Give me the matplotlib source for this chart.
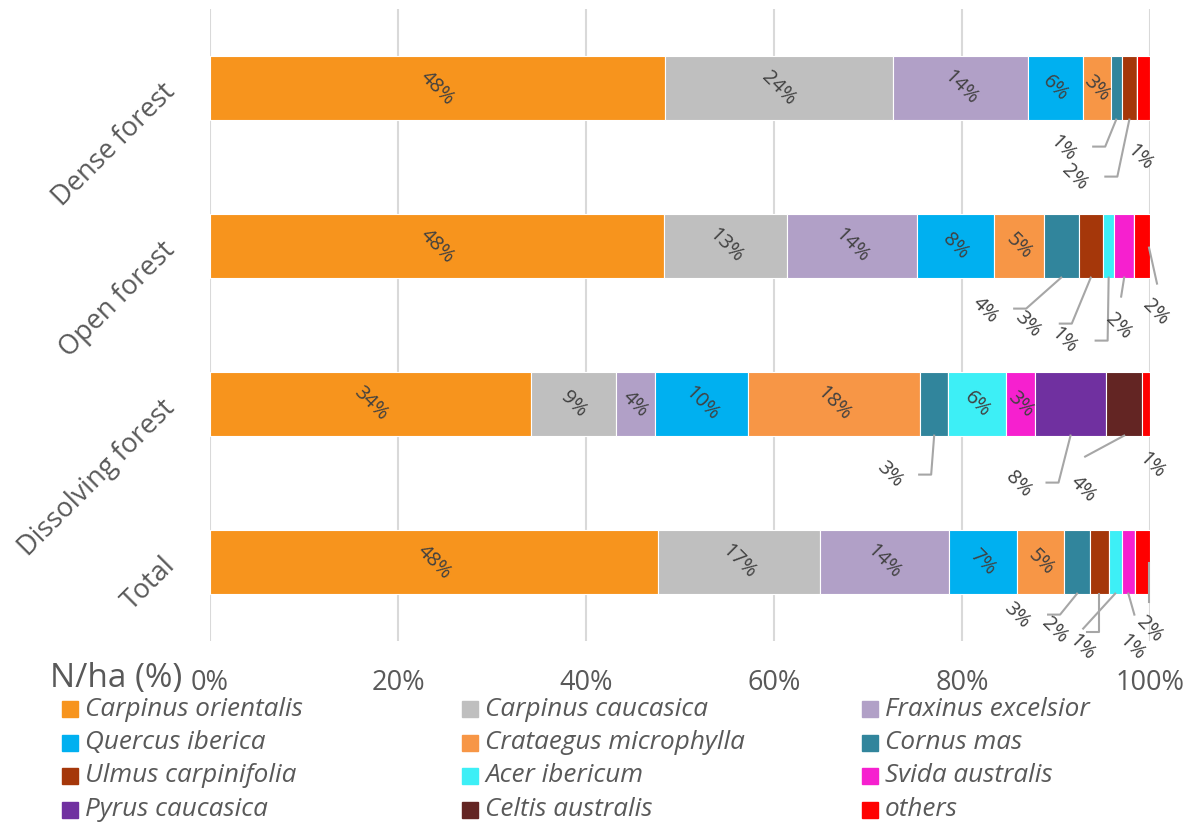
import matplotlib
matplotlib.use('Agg')
import matplotlib.pyplot as plt
import numpy as np
from matplotlib.patches import Rectangle
from matplotlib.lines import Line2D
from matplotlib.transforms import IdentityTransform

plt.rcParams['font.family'] = ['Open Sans', 'DejaVu Sans']

categories = ['Dense forest', 'Open forest', 'Dissolving forest', 'Total']
species = ['Carpinus orientalis', 'Carpinus caucasica', 'Fraxinus excelsior',
           'Quercus iberica', 'Crataegus microphylla', 'Cornus mas',
           'Ulmus carpinifolia', 'Acer ibericum', 'Svida australis',
           'Pyrus caucasica', 'Celtis australis', 'others']

carpinus_orientalis = [48.4, 48.3, 34.1, 47.6]
carpinus_caucasica = [24.3, 13.1, 9.1, 17.2]
fraxinus_excelsior = [14.4, 13.8, 4.1, 13.7]
quercus_iberica = [5.9, 8.2, 9.9, 7.3]
crataegus_microphylla = [2.9, 5.3, 18.3, 5.0]
cornus_mas = [1.2, 3.7, 3.0, 2.7]
ulmus_carpinifolia = [1.6, 2.6, 0.0, 2.0]
acer_ibericum = [0.0, 1.2, 6.1, 1.4]
svida_australis = [0.0, 2.1, 3.1, 1.4]
pyrus_caucasica = [0.0, 0.0, 7.6, 0.0]
celtis_australis = [0.0, 0.0, 3.8, 0.0]
others = [1.4, 1.7, 0.85, 1.6]

xtick_labels = ['0%', '20%', '40%', '60%', '80%', '100%']

series = [carpinus_orientalis, carpinus_caucasica, fraxinus_excelsior,
          quercus_iberica, crataegus_microphylla, cornus_mas,
          ulmus_carpinifolia, acer_ibericum, svida_australis,
          pyrus_caucasica, celtis_australis, others]

colors = ['#F7941D', '#BFBFBF', '#B1A0C7', '#00B0F0', '#F79646', '#31859C',
          '#A5370A', '#3DEFF6', '#F620CF', '#7030A0', '#632523', '#FF0000']

# which labels sit outside the bars: (category idx, species idx) ->
# label offset (px, right/down from segment centre at bar bottom), leader polyline offsets
outside = {
    (0, 5): ((-53, 29), [(0, 0), (-11, 27), (-23, 27)]),
    (0, 6): ((-55, 58), [(0, 0), (-12, 57), (-24, 57)]),
    (0, 11): ((-4, 38), None),
    (1, 5): ((-76, 33), [(0, 0), (-35, 31), (-47, 31)]),
    (1, 6): ((-63, 47), [(0, 0), (-19, 46), (-31, 46)]),
    (1, 7): ((-45, 63), [(0, 0), (-1, 63), (-13, 63)]),
    (1, 8): ((-6, 49), [(0, 0), (-3, 19)]),
    (1, 11): ((13, 35), [(7, -30), (15, 6)]),
    (2, 5): ((-45, 39), [(0, 0), (-3, 39), (-15, 39)]),
    (2, 9): ((-52, 49), [(0, 0), (-12, 47), (-24, 47)]),
    (2, 10): ((-41, 54), [(0, 0), (-39, 21)]),
    (2, 11): ((6, 30), None),
    (3, 5): ((-60, 22), [(0, 0), (-17, 21), (-29, 21)]),
    (3, 6): ((-45, 37), [(0, 0), (0, 38), (-12, 38)]),
    (3, 7): ((-33, 54), [(0, 0), (-32, 35)]),
    (3, 8): ((3, 54), [(0, 0), (6, 21)]),
    (3, 11): ((7, 36), [(7, -31), (7, 8)]),
}

W, H = 1196, 825
fig = plt.figure(figsize=(W / 100, H / 100), dpi=100)
ax = fig.add_axes([210 / W, 1 - 641 / H, 940 / W, 632 / H])

data = np.array(series)
totals = data.sum(axis=0)
pct = data / totals * 100
y = np.arange(len(categories))
bar_h = 0.4

left = np.zeros(len(categories))
for s, (name, col) in enumerate(zip(species, colors)):
    ax.barh(y, pct[s], left=left, height=bar_h, color=col,
            edgecolor='white', linewidth=0.8, zorder=3)
    left = left + pct[s]

ax.set_xlim(0, 100)
ax.set_ylim(len(categories) - 0.5, -0.5)
ax.set_xticks(np.linspace(0, 100, len(xtick_labels)))
ax.set_xticklabels(xtick_labels, fontsize=19.5, color='#595959')
ax.set_yticks(y)
ax.set_yticklabels(categories, fontsize=19.5, color='#595959', rotation=45,
                   ha='right', va='center', rotation_mode='anchor')
ax.tick_params(axis='x', length=0, pad=20)
ax.tick_params(axis='y', length=0, pad=28)
ax.grid(axis='x', color='#D9D9D9', linewidth=1.5, zorder=0)
for sp in ax.spines.values():
    sp.set_visible(False)

fig.canvas.draw()
label_color = '#404040'
label_size = 14.5
left = np.zeros(len(categories))
for s in range(len(species)):
    for c in range(len(categories)):
        v = data[s, c]
        if v <= 0:
            continue
        xc = left[c] + pct[s, c] / 2
        txt = f'{v:.0f}%'
        if (c, s) in outside:
            (dx, dy), leader = outside[(c, s)]
            ax.annotate(txt, xy=(xc, c + bar_h / 2), xytext=(dx, -dy),
                        textcoords='offset pixels', ha='center', va='center',
                        rotation=-45, fontsize=label_size, color=label_color,
                        annotation_clip=False, zorder=5)
            if leader:
                ax_pt = ax.transData.transform((xc, c + bar_h / 2))
                xs = [ax_pt[0] + p[0] for p in leader]
                ys = [ax_pt[1] - p[1] for p in leader]
                ln = Line2D(xs, ys, transform=IdentityTransform(),
                            color='#A6A6A6', linewidth=1.5, zorder=4)
                ln.set_clip_on(False)
                ax.add_artist(ln)
        else:
            ax.text(xc, c, txt, ha='center', va='center', rotation=-45,
                    fontsize=label_size, color=label_color, zorder=5)
    left = left + pct[s]

# axis title
fig.text(50 / W, 1 - 678 / H, 'N/ha (%)', fontsize=24, color='#595959',
         ha='left', va='center')

# legend (row-wise like the original)
for i, (name, col) in enumerate(zip(species, colors)):
    r, cc = divmod(i, 3)
    x0 = 62 + 400 * cc
    yc = 709 + 33.5 * r
    fig.patches.append(Rectangle((x0 / W, 1 - (yc + 8) / H), 16 / W, 16 / H,
                                 transform=fig.transFigure, color=col))
    fig.text((x0 + 23) / W, 1 - yc / H, name, fontsize=18.8, style='italic',
             color='#595959', ha='left', va='center')

fig.savefig('out.png', dpi=100)
